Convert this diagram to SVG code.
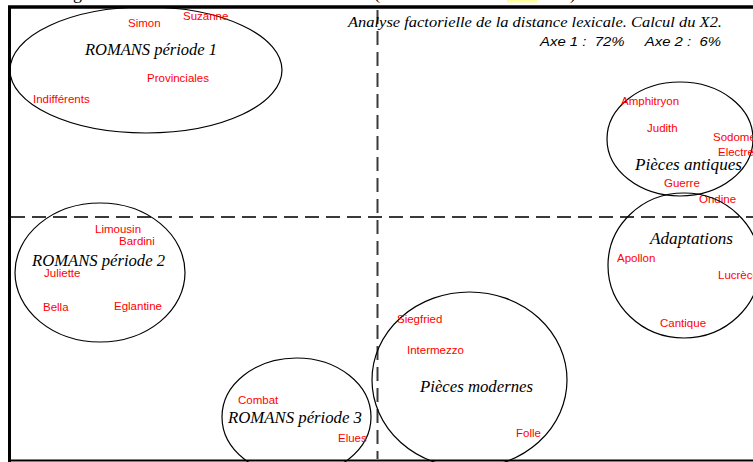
<svg xmlns="http://www.w3.org/2000/svg" width="753" height="462" viewBox="0 0 753 462">
  <style>
    .frame { stroke: #000; fill: none; }
    .axis { stroke: #3a3a3a; stroke-width: 2; stroke-dasharray: 14 7; fill: none; }
    .group { stroke: #000; stroke-width: 1.2; fill: none; }
    .item { font-family: "Liberation Sans", Arial, sans-serif; font-size: 11.5px; fill: #ff0000; }
    .name { font-family: "Liberation Serif", "Times New Roman", serif; font-style: italic; font-size: 16px; fill: #000; }
    .title { font-family: "Liberation Serif", "Times New Roman", serif; font-style: italic; font-size: 15px; fill: #000; }
    .axes { font-family: "Liberation Sans", Arial, sans-serif; font-style: italic; font-size: 13px; fill: #000; }
    .caption { font-family: "Liberation Serif", "Times New Roman", serif; font-size: 18px; fill: #000; }
  </style>

  <rect x="0" y="0" width="753" height="462" fill="#ffffff"/>

  <!-- caption line above the plot, cut off by the frame -->
  <g id="caption">
    <rect x="507" y="0" width="30" height="2.5" fill="#ffff99"/>
    <text class="caption" x="73" y="-1">g</text>
    <text class="caption" x="374" y="-1">(</text>
    <text class="caption" x="570" y="-1">)</text>
  </g>

  <!-- plot frame -->
  <g id="frame">
    <line class="frame" x1="8" y1="7" x2="753" y2="7" stroke-width="3.5"/>
    <line class="frame" x1="9.5" y1="6" x2="9.5" y2="462" stroke-width="3"/>
    <line class="frame" x1="8" y1="460.5" x2="753" y2="460.5" stroke-width="2"/>
  </g>

  <!-- factorial axes -->
  <g id="axes">
    <line class="axis" x1="11" y1="217" x2="753" y2="217"/>
    <line class="axis" x1="377.5" y1="10" x2="377.5" y2="459"/>
  </g>

  <g id="title">
    <text class="title" x="348" y="27" textLength="374" lengthAdjust="spacingAndGlyphs">Analyse factorielle de la distance lexicale. Calcul du X2.</text>
    <text class="axes" x="540" y="46" textLength="181" lengthAdjust="spacingAndGlyphs" xml:space="preserve">Axe 1 :  72%     Axe 2 :  6%</text>
  </g>

  <!-- group: novels, first period -->
  <g id="romans-1">
    <ellipse class="group" cx="146" cy="70" rx="136" ry="63"/>
    <text class="name" x="85" y="55" textLength="132" lengthAdjust="spacingAndGlyphs">ROMANS période 1</text>
    <text class="item" x="128" y="27">Simon</text>
    <text class="item" x="183" y="20">Suzanne</text>
    <text class="item" x="147" y="82">Provinciales</text>
    <text class="item" x="33" y="103">Indifférents</text>
  </g>

  <!-- group: novels, second period -->
  <g id="romans-2">
    <ellipse class="group" cx="100" cy="272.5" rx="85" ry="69.5"/>
    <text class="name" x="32" y="266" textLength="133" lengthAdjust="spacingAndGlyphs">ROMANS période 2</text>
    <text class="item" x="95" y="233">Limousin</text>
    <text class="item" x="119" y="245">Bardini</text>
    <text class="item" x="44" y="277">Juliette</text>
    <text class="item" x="43" y="311">Bella</text>
    <text class="item" x="114" y="310">Eglantine</text>
  </g>

  <!-- group: novels, third period -->
  <g id="romans-3">
    <ellipse class="group" cx="296.5" cy="417" rx="74.5" ry="59"/>
    <text class="name" x="228" y="423" textLength="134" lengthAdjust="spacingAndGlyphs">ROMANS période 3</text>
    <text class="item" x="238" y="404">Combat</text>
    <text class="item" x="338" y="442">Elues</text>
  </g>

  <!-- group: modern plays -->
  <g id="pieces-modernes">
    <ellipse class="group" cx="469.5" cy="380" rx="97.5" ry="88"/>
    <text class="name" x="420" y="392" textLength="113" lengthAdjust="spacingAndGlyphs">Pièces modernes</text>
    <text class="item" x="397" y="323">Siegfried</text>
    <text class="item" x="407" y="354">Intermezzo</text>
    <text class="item" x="516" y="437">Folle</text>
  </g>

  <!-- group: plays on antique subjects -->
  <g id="pieces-antiques">
    <ellipse class="group" cx="680" cy="139" rx="73" ry="57"/>
    <text class="name" x="635" y="170" textLength="107" lengthAdjust="spacingAndGlyphs">Pièces antiques</text>
    <text class="item" x="621" y="105">Amphitryon</text>
    <text class="item" x="647" y="132">Judith</text>
    <text class="item" x="713" y="141">Sodome</text>
    <text class="item" x="718" y="156">Electre</text>
    <text class="item" x="664" y="187">Guerre</text>
    <text class="item" x="699" y="203">Ondine</text>
  </g>

  <!-- group: adaptations -->
  <g id="adaptations">
    <ellipse class="group" cx="684" cy="265.5" rx="76" ry="72.5"/>
    <text class="name" x="650" y="244" textLength="83" lengthAdjust="spacingAndGlyphs">Adaptations</text>
    <text class="item" x="617" y="262">Apollon</text>
    <text class="item" x="718" y="279">Lucrèce</text>
    <text class="item" x="660" y="327">Cantique</text>
  </g>
</svg>
